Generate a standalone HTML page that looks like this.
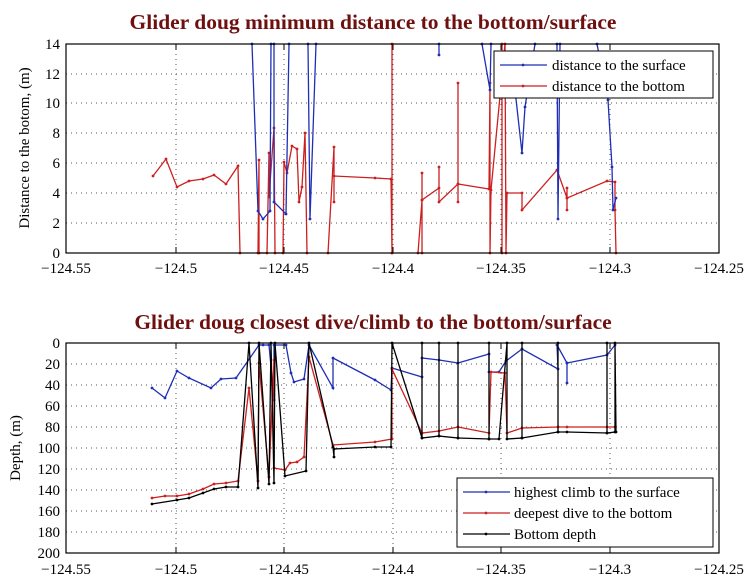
<!DOCTYPE html>
<html><head><meta charset="utf-8"><style>
html,body{margin:0;padding:0;background:#fff;}
svg{display:block;font-family:"Liberation Serif",serif;}
</style></head><body>
<svg width="750" height="579" viewBox="0 0 750 579" xmlns="http://www.w3.org/2000/svg">
<defs>
<marker id="mb" markerUnits="userSpaceOnUse" markerWidth="4" markerHeight="4" refX="2" refY="2"><circle cx="2" cy="2" r="1.4" fill="#1f2fb5"/></marker>
<marker id="mr" markerUnits="userSpaceOnUse" markerWidth="4" markerHeight="4" refX="2" refY="2"><circle cx="2" cy="2" r="1.4" fill="#cc1f1f"/></marker>
<marker id="mk" markerUnits="userSpaceOnUse" markerWidth="4" markerHeight="4" refX="2" refY="2"><circle cx="2" cy="2" r="1.4" fill="#000"/></marker>
</defs>
<rect width="750" height="579" fill="#fff"/>
<!-- TOP -->
<text x="373" y="29" text-anchor="middle" font-size="21.5" font-weight="bold" fill="#6e1010">Glider doug minimum distance to the bottom/surface</text>
<g stroke="#555" stroke-width="1" stroke-dasharray="1,4">
<line x1="176" y1="44" x2="176" y2="253"/><line x1="284" y1="44" x2="284" y2="253"/><line x1="393" y1="44" x2="393" y2="253"/><line x1="501" y1="44" x2="501" y2="253"/><line x1="610" y1="44" x2="610" y2="253"/>
<line x1="66" y1="223" x2="719" y2="223"/><line x1="66" y1="193" x2="719" y2="193"/><line x1="66" y1="163" x2="719" y2="163"/><line x1="66" y1="133" x2="719" y2="133"/><line x1="66" y1="103" x2="719" y2="103"/><line x1="66" y1="74" x2="719" y2="74"/>
</g>
<g fill="none" stroke="#cc1f1f" stroke-width="1.3" marker-start="url(#mr)" marker-mid="url(#mr)" marker-end="url(#mr)">
<polyline points="153,176 166,159 177,187 189,181 203,179 214,175 226,184 238,166 240,253"/>
<polyline points="258,253 259,160 259,253 267,253 269,153 269,197 274,128 275,253 283,253 284,162 287,173 292,146 297,149 299,202 302,187 305,133 307,253"/>
<polyline points="328,253 334,147 334,202 334,176 375,178 391,179 392,253 392,44 392,253"/>
<polyline points="418,253 422,200 422,173 422,253 422,200 439,188 439,167 439,202 458,184 458,83 458,202 458,184 489,189 490,83 490,253 491,190 505,44 506,253 507,193 522,193 522,210 557,170 567,198 567,188 567,210 567,198 607,181 615,182 615,210 616,253"/>
<polyline points="502,253 502,44"/>
</g>
<g fill="none" stroke="#1f2fb5" stroke-width="1.3" marker-start="url(#mb)" marker-mid="url(#mb)" marker-end="url(#mb)">
<polyline points="252,44 258,211 263,219 270,211 271,44 274,44 274,202 286,214 289,44"/>
<polyline points="308,44 310,219 316,44"/>
<polyline points="439,44 439,55"/>
<polyline points="482,44 490,90 491,44"/>
<polyline points="515,90 522,153 525,107 535,44"/>
<polyline points="557,44 558,219 560,44"/>
<polyline points="597,44 608,100 612,167 613,210 616,198"/>
</g>
<rect x="66" y="44" width="653" height="209" fill="none" stroke="#000" stroke-width="1.2"/>
<g stroke="#000" stroke-width="1">
<line x1="66" y1="253" x2="66" y2="247"/><line x1="176" y1="253" x2="176" y2="247"/><line x1="284" y1="253" x2="284" y2="247"/><line x1="393" y1="253" x2="393" y2="247"/><line x1="501" y1="253" x2="501" y2="247"/><line x1="610" y1="253" x2="610" y2="247"/>
<line x1="176" y1="44" x2="176" y2="50"/><line x1="284" y1="44" x2="284" y2="50"/><line x1="393" y1="44" x2="393" y2="50"/><line x1="501" y1="44" x2="501" y2="50"/><line x1="610" y1="44" x2="610" y2="50"/>
</g>
<g font-size="15" text-anchor="end">
<text x="60" y="258">0</text><text x="60" y="228">2</text><text x="60" y="198">4</text><text x="60" y="168">6</text><text x="60" y="138">8</text><text x="60" y="108">10</text><text x="60" y="79">12</text><text x="60" y="49">14</text>
</g>
<g font-size="15" text-anchor="middle">
<text x="66" y="273">−124.55</text><text x="176" y="273">−124.5</text><text x="284" y="273">−124.45</text><text x="393" y="273">−124.4</text><text x="501" y="273">−124.35</text><text x="610" y="273">−124.3</text><text x="719" y="273">−124.25</text>
</g>
<text transform="translate(29,148) rotate(-90)" font-size="15" text-anchor="middle">Distance to the botom, (m)</text>
<rect x="494" y="51" width="219" height="47" fill="#fff" stroke="#000" stroke-width="1"/>
<line x1="500" y1="65" x2="547" y2="65" stroke="#1f2fb5" stroke-width="1.3" marker-mid="url(#mb)"/>
<circle cx="523" cy="65" r="1.4" fill="#1f2fb5"/>
<line x1="500" y1="86" x2="547" y2="86" stroke="#cc1f1f" stroke-width="1.3"/>
<circle cx="523" cy="86" r="1.4" fill="#cc1f1f"/>
<text x="552" y="70" font-size="15">distance to the surface</text>
<text x="552" y="91" font-size="15">distance to the bottom</text>

<!-- BOTTOM -->
<text x="373" y="329" text-anchor="middle" font-size="21.5" font-weight="bold" fill="#6e1010">Glider doug closest dive/climb to the bottom/surface</text>
<g stroke="#555" stroke-width="1" stroke-dasharray="1,4">
<line x1="176" y1="343" x2="176" y2="553"/><line x1="284" y1="343" x2="284" y2="553"/><line x1="393" y1="343" x2="393" y2="553"/><line x1="501" y1="343" x2="501" y2="553"/><line x1="610" y1="343" x2="610" y2="553"/>
<line x1="66" y1="364" x2="719" y2="364"/><line x1="66" y1="385" x2="719" y2="385"/><line x1="66" y1="406" x2="719" y2="406"/><line x1="66" y1="427" x2="719" y2="427"/><line x1="66" y1="448" x2="719" y2="448"/><line x1="66" y1="469" x2="719" y2="469"/><line x1="66" y1="490" x2="719" y2="490"/><line x1="66" y1="511" x2="719" y2="511"/><line x1="66" y1="532" x2="719" y2="532"/>
</g>
<g fill="none" stroke="#1f2fb5" stroke-width="1.3" marker-start="url(#mb)" marker-mid="url(#mb)" marker-end="url(#mb)">
<polyline points="152,388 165,398 177,371 189,378 211,388 221,379 236,378 259,345 263,345 269,345 274,400 274,345 286,345 291,373 294,382 304,379 309,345 333,388 333,358 375,380 391,390 392,368 422,377 422,358 439,360 458,363 489,354 489,372 499,372 506,361 522,349 558,369 557,345 567,363 567,383 567,363 607,355 615,345"/>
</g>
<g fill="none" stroke="#cc1f1f" stroke-width="1.3" marker-start="url(#mr)" marker-mid="url(#mr)" marker-end="url(#mr)">
<polyline points="152,498 165,496 177,496 189,494 203,489 214,484 226,483 238,481 249,388 258,481 259,363 269,477 274,360 274,468 285,470 290,463 297,462 304,457 309,357 333,445 375,442 392,439 392,369 422,433 439,431 458,427 489,433 491,372 505,373 507,433 522,428 558,427 567,427 607,427 615,427"/>
</g>
<g fill="none" stroke="#000" stroke-width="1.3" marker-start="url(#mk)" marker-mid="url(#mk)" marker-end="url(#mk)">
<polyline points="152,504 177,500 189,498 203,493 214,489 226,487 238,487 249,343 258,488 259,343 269,484 271,343 274,483 275,343 285,476 306,471 309,343 333,447 334,457 334,449 375,447 391,447 392,343 422,438 422,343 422,438 439,436 439,343 439,436 458,438 458,343 458,438 489,439 489,343 489,439 499,439 507,343 507,439 522,438 522,343 522,438 558,432 558,343 558,432 567,432 607,433 607,343 607,433 615,432 615,343 616,432"/>
</g>
<rect x="66" y="343" width="653" height="210" fill="none" stroke="#000" stroke-width="1.2"/>
<g stroke="#000" stroke-width="1">
<line x1="66" y1="553" x2="66" y2="547"/><line x1="176" y1="553" x2="176" y2="547"/><line x1="284" y1="553" x2="284" y2="547"/><line x1="393" y1="553" x2="393" y2="547"/><line x1="501" y1="553" x2="501" y2="547"/><line x1="610" y1="553" x2="610" y2="547"/>
<line x1="176" y1="343" x2="176" y2="349"/><line x1="284" y1="343" x2="284" y2="349"/><line x1="393" y1="343" x2="393" y2="349"/><line x1="501" y1="343" x2="501" y2="349"/><line x1="610" y1="343" x2="610" y2="349"/>
</g>
<g font-size="15" text-anchor="end">
<text x="60" y="348">0</text><text x="60" y="369">20</text><text x="60" y="390">40</text><text x="60" y="411">60</text><text x="60" y="432">80</text><text x="60" y="453">100</text><text x="60" y="474">120</text><text x="60" y="495">140</text><text x="60" y="516">160</text><text x="60" y="537">180</text><text x="60" y="558">200</text>
</g>
<g font-size="15" text-anchor="middle">
<text x="66" y="574">−124.55</text><text x="176" y="574">−124.5</text><text x="284" y="574">−124.45</text><text x="393" y="574">−124.4</text><text x="501" y="574">−124.35</text><text x="610" y="574">−124.3</text><text x="719" y="574">−124.25</text>
</g>
<text transform="translate(20,448) rotate(-90)" font-size="15" text-anchor="middle">Depth, (m)</text>
<rect x="457" y="478" width="256" height="69" fill="#fff" stroke="#000" stroke-width="1"/>
<line x1="463" y1="492" x2="510" y2="492" stroke="#1f2fb5" stroke-width="1.3"/><circle cx="486" cy="492" r="1.4" fill="#1f2fb5"/>
<line x1="463" y1="513" x2="510" y2="513" stroke="#cc1f1f" stroke-width="1.3"/><circle cx="486" cy="513" r="1.4" fill="#cc1f1f"/>
<line x1="463" y1="534" x2="510" y2="534" stroke="#000" stroke-width="1.3"/><circle cx="486" cy="534" r="1.4" fill="#000"/>
<text x="514" y="497" font-size="15">highest climb to the surface</text>
<text x="514" y="518" font-size="15">deepest dive to the bottom</text>
<text x="514" y="539" font-size="15">Bottom depth</text>
</svg>
</body></html>
